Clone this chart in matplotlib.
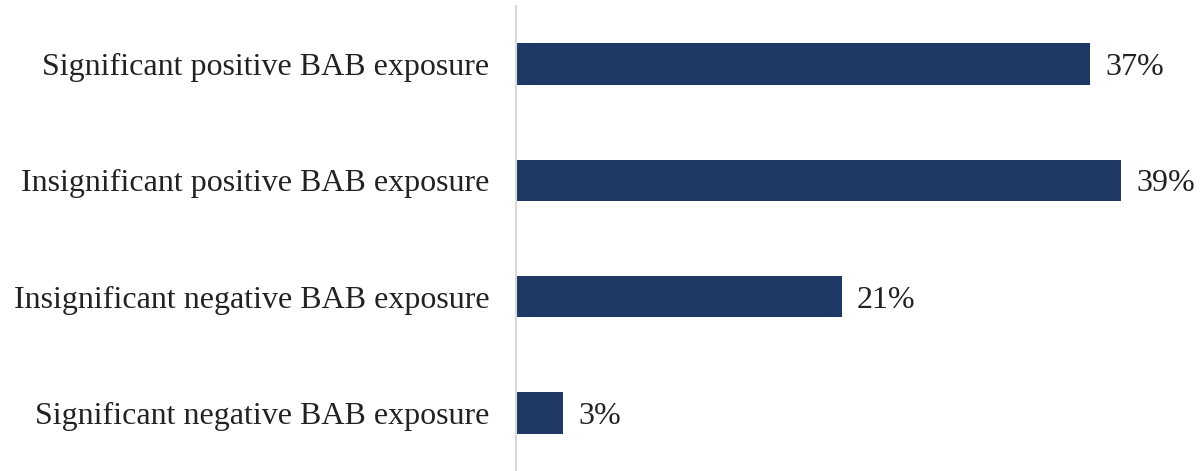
import matplotlib
matplotlib.use("Agg")
import matplotlib.pyplot as plt

categories = ["Significant positive BAB exposure",
              "Insignificant positive BAB exposure",
              "Insignificant negative BAB exposure",
              "Significant negative BAB exposure"]
values = [37, 39, 21, 3]
labels = ["37%", "39%", "21%", "3%"]

plt.rcParams['font.family'] = ['Liberation Serif', 'DejaVu Serif']

W, H = 1201, 471
fig = plt.figure(figsize=(W/100, H/100), dpi=100)
ax_left = 516/W
ax_bottom = 0.0
ax_top = 1 - 6/H
ax = fig.add_axes([ax_left, ax_bottom, 1 - ax_left, ax_top - ax_bottom])

y = list(range(len(categories)))
ax.barh(y, values, height=0.355, color="#203864", zorder=2)
ax.set_ylim(3.5, -0.5)
ax.set_xlim(0, (W - 516) / 15.5)

for yi, v, lab in zip(y, values, labels):
    ax.text(v + 1.0, yi, lab, va="center_baseline", ha="left", fontsize=23, color="#222222")

ax.set_yticks(y)
ax.set_yticklabels(categories, fontsize=23, color="#222222", va="center_baseline")
ax.tick_params(axis="y", length=0, pad=19)
ax.set_xticks([])
for s in ["top", "right", "bottom"]:
    ax.spines[s].set_visible(False)
ax.spines["left"].set_color("#D9D9D9")
ax.spines["left"].set_linewidth(1.5)

fig.savefig("out.png", dpi=100)
